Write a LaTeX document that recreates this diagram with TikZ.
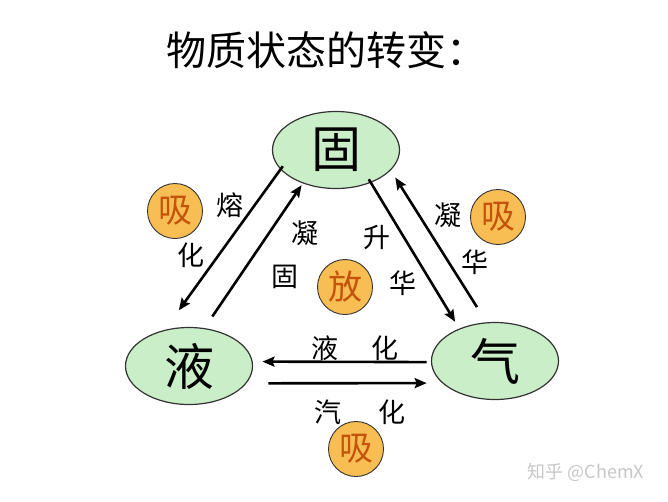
\documentclass[tikz,border=0pt]{standalone}
\usepackage{fontspec}
\setmainfont{Noto Sans CJK SC}
\usetikzlibrary{arrows.meta,shapes.geometric}
\definecolor{stategreen}{RGB}{202,238,200}
\definecolor{heatorange}{RGB}{248,190,84}
\definecolor{heattext}{RGB}{196,84,12}
\begin{document}
\begin{tikzpicture}[x=1pt,y=-1pt,
    state/.style={ellipse,draw=black!80,line width=1.2pt,fill=stategreen,
      minimum width=127pt,minimum height=77pt,inner sep=0pt,outer sep=0pt,
      font=\fontsize{50}{50}\selectfont},
    heat/.style={circle,draw=black!80,line width=0.9pt,fill=heatorange,
      minimum size=55pt,inner sep=0pt,text=heattext,
      font=\fontsize{34}{34}\selectfont},
    lab/.style={inner sep=0pt,font=\fontsize{27}{27}\selectfont},
    arr/.style={-{Stealth[length=12pt,width=10pt,inset=2pt]},line width=2.6pt}]
  \useasboundingbox (0,0) rectangle (668,501);
  \node[anchor=west,inner sep=0pt,font=\fontsize{40}{40}\selectfont] (title) at (166,50) {物质状态的转变：};
  % the three states
  \draw
    (336,150) node[state] (gu){固}
    (189,366) node[state] (ye){液}
    (495,361) node[state] (qi){气};
  % heat taken in or given out
  \draw
    (175,211) node[heat] (xi1){吸}
    (345,287) node[heat] (fang){放}
    (498,217) node[heat] (xi2){吸}
    (356,449) node[heat] (xi3){吸};
  % names of the changes
  \draw
    (230,205) node[lab] (rong){熔}
    (191,255) node[lab] (rhua){化}
    (305,233) node[lab] (ning1){凝}
    (285,277) node[lab] (ngu){固}
    (377,237) node[lab] (sheng){升}
    (403,283) node[lab] (shua){华}
    (448,215) node[lab] (ning2){凝}
    (475,262) node[lab] (nhua){华}
    (325,348) node[lab] (yye){液}
    (385,348) node[lab] (yhua){化}
    (328,412) node[lab] (qqi){汽}
    (392,412) node[lab] (qhua){化};
  \begin{scope}[arr]
    \draw[shorten <=-3.5pt,shorten >=25pt] (gu.199) to (ye.125);
    \draw[shorten <=14.6pt,shorten >=2.7pt] (ye.68) to (gu.225);
    \draw[shorten <=-3.5pt,shorten >=8.5pt] (gu.317) to (qi.138);
    \draw[shorten <=18.6pt,shorten >=9.1pt] (qi.102) to (gu.340);
    \draw[shorten <=5pt,shorten >=10.4pt] (qi.181) to (ye.4);
    \draw[shorten <=22.7pt,shorten >=16.3pt] (ye.343) to (qi.203);
  \end{scope}
  \node[inner sep=0pt,text=black!22,font=\fontsize{18}{18}\selectfont] (mark) at (586,472) {知乎 @ChemX};
\end{tikzpicture}
\end{document}
